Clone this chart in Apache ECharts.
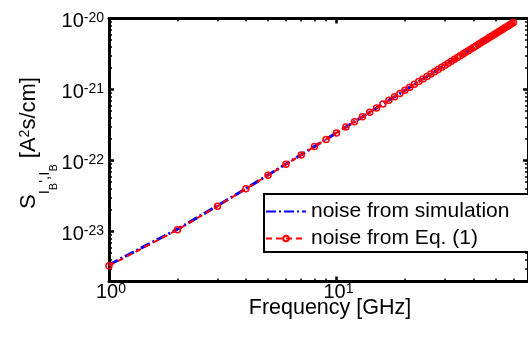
<!DOCTYPE html>
<html><head><meta charset="utf-8">
<script src="https://cdn.jsdelivr.net/npm/echarts@6/dist/echarts.min.js"></script>
<style>html,body{margin:0;padding:0;background:#fff}#c{width:528px;height:337px}</style>
</head><body><div id="c"></div>
<script>
// ---- data (noise values in units of 1e-24 A^2 s/cm) ----
const frequencies = [1,2,3,4,5,6,7,8,9,10,11,12,13,14,15,16,17,18,19,20,21,22,23,24,25,26,27,28,29,30,
  31,32,33,34,35,36,37,38,39,40,41,42,43,44,45,46,47,48,49,50,51,52,53,54,55,56,57,58,59,60];
const eqNoise = [3.3,10.6,22.8,39.9,61.9,88.7,120,157,198,245,296,352,413,479,550,625,706,791,882,977,
  1077,1182,1292,1406,1526,1650,1780,1914,2053,2197,2346,2500,2658,2822,2990,3163,3341,3524,3712,3905,
  4102,4305,4512,4725,4942,5164,5391,5623,5859,6101,6347,6599,6855,7116,7382,7653,7928,8209,8494,8785];
const simNoise = [3.4,10.8,23.1,40.3,62.4,89.2,121,158,199,246,297,353,414,480,551,626,707,792,883,978,
  1078,1183,1293,1407,1527,1651,1781,1915,2054,2198,2347,2501,2659,2823,2991,3164,3342,3525,3713,3906,
  4103,4306,4513,4726,4943,5165,5392,5624,5860,6102,6348,6600,6856,7117,7383,7654,7929,8210,8495,8786];
const valueUnit = 1e-24;
const seriesNames = ['noise from simulation', 'noise from Eq. (1)'];
const xMajorTicks = [1, 10];
const xMinorTicks = [2,3,4,5,6,7,8,9,20,30,40,50,60];
const yMajorTicks = [1e-23, 1e-22, 1e-21, 1e-20];
const yMinorTicks = [3e-24,4e-24,5e-24,6e-24,7e-24,8e-24,9e-24,
  2e-23,3e-23,4e-23,5e-23,6e-23,7e-23,8e-23,9e-23,
  2e-22,3e-22,4e-22,5e-22,6e-22,7e-22,8e-22,9e-22,
  2e-21,3e-21,4e-21,5e-21,6e-21,7e-21,8e-21,9e-21];
const xRange = [1, 69.5];
const yRange = [1.98e-24, 1e-20];
const xTitle = 'Frequency [GHz]';

// ---- chart ----
const lg = Math.log10;
const FONT = '"Liberation Sans", Arial, sans-serif';
const X0 = lg(xRange[0]), X1 = lg(xRange[1]), Y0 = lg(yRange[0]), Y1 = lg(yRange[1]);
function makeRich(topPad) {
  return {
    b: {fontSize: 20, lineHeight: 20, verticalAlign: 'bottom', fontFamily: FONT, color: '#000'},
    s: {fontSize: 14, lineHeight: 14, padding: [topPad, 0, 17, 0], verticalAlign: 'top', fontFamily: FONT, color: '#000'}
  };
}
const fmt = v => '{b|10}{s|' + Math.round(v) + '}';
function majorAxis(pos, min, max, ticks, labels) {
  return {
    type: 'value', position: pos, min: min, max: max,
    axisLine: {show: true, onZero: false, lineStyle: {color: '#000', width: 3}},
    axisTick: {show: true, inside: true, length: 5, lineStyle: {color: '#000', width: 2.5}, customValues: ticks.map(lg)},
    axisLabel: labels ? labels : {show: false},
    splitLine: {show: false}
  };
}
function minorAxis(pos, min, max, ticks) {
  return {
    type: 'value', position: pos, min: min, max: max,
    axisLine: {show: false, onZero: false},
    axisTick: {show: true, inside: true, length: 3, lineStyle: {color: '#000', width: 1.5}, customValues: ticks.map(lg)},
    axisLabel: {show: false}, splitLine: {show: false}
  };
}
const option = {
  animation: false,
  backgroundColor: '#fff',
  grid: {left: 109, top: 18.5, width: 420, height: 263, containLabel: false},
  xAxis: [
    majorAxis('bottom', X0, X1, xMajorTicks, {
      customValues: xMajorTicks.map(lg), formatter: fmt, rich: makeRich(0), margin: 1, padding: [0,0,0,4]
    }),
    minorAxis('bottom', X0, X1, xMinorTicks),
    majorAxis('top', X0, X1, xMajorTicks, null),
    minorAxis('top', X0, X1, xMinorTicks)
  ],
  yAxis: [
    majorAxis('left', Y0, Y1, yMajorTicks, {
      customValues: yMajorTicks.map(lg), formatter: fmt, rich: makeRich(0), margin: 5, padding: [6,0,0,0], align: 'right'
    }),
    minorAxis('left', Y0, Y1, yMinorTicks),
    majorAxis('right', Y0, Y1, yMajorTicks, null),
    minorAxis('right', Y0, Y1, yMinorTicks)
  ],
  legend: {
    orient: 'vertical', left: 264, top: 194,
    backgroundColor: '#fff', borderColor: '#000', borderWidth: 2,
    padding: [7, 22, 3, 1], itemGap: 6, itemWidth: 40, itemHeight: 7,
    textStyle: {fontSize: 21, fontFamily: FONT, color: '#000'},
    data: [
      {name: seriesNames[0], itemStyle: {color: 'rgba(0,0,0,0)', borderColor: 'rgba(0,0,0,0)', borderWidth: 0}},
      {name: seriesNames[1]}
    ]
  },
  series: [
    {
      type: 'line', name: seriesNames[0], xAxisIndex: 0, yAxisIndex: 0, z: 2,
      data: frequencies.map((f, i) => [lg(f), lg(simNoise[i] * valueUnit)]),
      symbol: 'none', showSymbol: false,
      lineStyle: {color: '#0000ff', width: 3, type: [10,3,2,3]},
      itemStyle: {color: '#0000ff'}
    },
    {
      type: 'line', name: seriesNames[1], xAxisIndex: 0, yAxisIndex: 0, z: 3,
      data: frequencies.map((f, i) => [lg(f), lg(eqNoise[i] * valueUnit)]),
      symbol: 'circle', symbolSize: 6,
      lineStyle: {color: '#ff0000', width: 2, type: [6,4]},
      itemStyle: {color: 'rgba(255,255,255,0)', borderColor: '#ff0000', borderWidth: 1.5}
    }
  ],
  graphic: [{
    type: 'text', x: 18.3, y: 209, rotation: Math.PI / 2, silent: true,
    style: {
      text: "{m|S}{s|I}{ss|B}{s|',}{s|I}{ss|B}{m| [A}{p|2}{m|s/cm]}",
      align: 'left', verticalAlign: 'top', fill: '#000',
      rich: {
        m: {fontSize: 22, lineHeight: 22, verticalAlign: 'top', fontFamily: FONT, fill: '#000'},
        s: {fontSize: 15, lineHeight: 15, padding: [19,0,0,0], verticalAlign: 'top', fontFamily: FONT, fill: '#000'},
        ss: {fontSize: 11, lineHeight: 11, padding: [30,0,0,0], verticalAlign: 'top', fontFamily: FONT, fill: '#000'},
        p: {fontSize: 14, lineHeight: 14, padding: [0,0,0,0], verticalAlign: 'top', fontFamily: FONT, fill: '#000'}
      }
    }
  }, {
    type: 'text', x: 330, y: 308, silent: true,
    style: {text: xTitle, align: 'center', verticalAlign: 'middle', fontSize: 21.5, fontFamily: FONT, fill: '#000'}
  }]
};
const chart = echarts.init(document.getElementById('c'), null, {renderer: 'canvas'});
chart.setOption(option);
</script>
</body></html>
